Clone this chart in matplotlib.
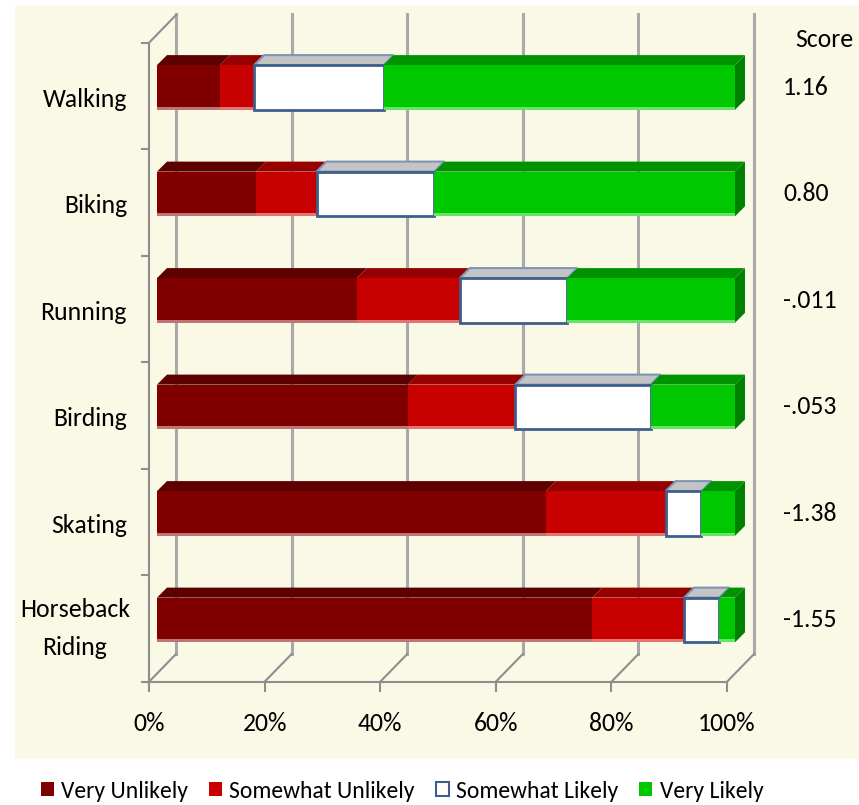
import numpy as np
import matplotlib.pyplot as plt
from matplotlib import font_manager
from matplotlib.patches import Polygon, Rectangle, Patch

# survey shares (percent of respondents) per activity
activities = ["Walking", "Biking", "Running", "Birding", "Skating", "Horseback\nRiding"]
very_unlikely = [10.9, 17.1, 34.6, 43.4, 67.3, 75.3]
somewhat_unlikely = [5.9, 10.5, 17.8, 18.6, 20.7, 15.9]
somewhat_likely = [22.4, 20.4, 18.6, 23.4, 6.2, 6.1]
very_likely = [60.8, 52.0, 29.0, 14.6, 5.8, 2.7]
scores = ["1.16", "0.80", "-.011", "-.053", "-1.38", "-1.55"]
tick_values = [0, 20, 40, 60, 80, 100]

series = [
    ("Very Unlikely", very_unlikely, "#800000", "#5C0000", "#C07474", "#800000"),
    ("Somewhat Unlikely", somewhat_unlikely, "#C80000", "#960000", "#E47474", "#C80000"),
    ("Somewhat Likely", somewhat_likely, "#FFFFFF", "#C4C4C4", "#FFFFFF", "#3D5F8C"),
    ("Very Likely", very_likely, "#00C800", "#009300", "#66E466", "#00C800"),
]

names = {f.name for f in font_manager.fontManager.ttflist}
for fam in ["Carlito", "Lato", "DejaVu Sans"]:
    if fam in names:
        plt.rcParams["font.family"] = [fam, "DejaVu Sans"]
        break
FS = 18.5

fig = plt.figure(figsize=(8.59, 8.05), dpi=100)
fig.patches.append(Rectangle((15 / 859, 47 / 805), 1 - 15 / 859, 752 / 805,
                             transform=fig.transFigure, color="#FAF9E6", zorder=0))

ax = fig.add_axes([0, 0, 1, 1])
ax.set_zorder(2)
ax.set_xlim(-149 / 5.78, (859 - 149) / 5.78)
ax.set_ylim((805 - 96) / 106.5, -96 / 106.5)
ax.axis("off")

n = len(activities)
rows = np.arange(n)
wall_dx, wall_dy = 4.67, 0.26      # floor / wall depth
bar_dx, bar_dy = 1.73, 0.094       # bar depth
shift_x, shift_y = 1.38, -0.08     # bars sit slightly behind front plane
bar_h = 0.42
grid = "#8E8E8E"

# back wall gridlines
for t in tick_values:
    ax.plot([t + wall_dx, t + wall_dx], [-0.5 - wall_dy - 0.01, n - 0.5 - wall_dy],
            color="#A9A9A9", lw=2.2, zorder=1)
    ax.plot([t, t + wall_dx], [n - 0.5, n - 0.5 - wall_dy], color=grid, lw=1.5, zorder=1)
    ax.plot([t, t], [n - 0.5, n - 0.5 + 0.085], color=grid, lw=1.5, zorder=1)
    ax.text(t, n - 0.5 + 0.39, f"{t}%", ha="center", va="center", fontsize=FS)

# left wall and floor edge
ax.plot([0, 0], [-0.5, n - 0.5 + 0.085], color=grid, lw=1.5, zorder=1)
ax.plot([0, wall_dx], [-0.5, -0.5 - wall_dy], color=grid, lw=1.5, zorder=1)
ax.plot([0, 100], [n - 0.5, n - 0.5], color=grid, lw=1.5, zorder=1)
for b in np.arange(n + 1) - 0.5:
    ax.plot([-1.2, 0], [b, b], color=grid, lw=1.5, zorder=1)

# stacked 3D bars
centers = rows + shift_y
left = np.zeros(n)
for label, vals, front, top, strip, edge in series:
    vals = np.array(vals)
    ax.barh(centers, vals, left=left + shift_x, height=bar_h, color=front,
            edgecolor=edge, linewidth=2 if front == "#FFFFFF" else 0, zorder=3)
    if front != "#FFFFFF":
        ax.barh(centers + bar_h / 2 - 0.015, vals, left=left + shift_x, height=0.03,
                color=strip, linewidth=0, zorder=3)
    for c, l, v in zip(centers, left, vals):
        y0 = c - bar_h / 2
        x0, x1 = l + shift_x, l + v + shift_x
        tedge = "#7B96B8" if front == "#FFFFFF" else top
        ax.add_patch(Polygon([(x0, y0), (x1, y0), (x1 + bar_dx, y0 - bar_dy), (x0 + bar_dx, y0 - bar_dy)],
                             closed=True, facecolor=top, edgecolor=tedge,
                             lw=1.5 if front == "#FFFFFF" else 0, zorder=2.5))
    left = left + vals

# right end faces
for c, l in zip(centers, left):
    y0, y1 = c - bar_h / 2, c + bar_h / 2
    x = l + shift_x
    ax.add_patch(Polygon([(x, y0), (x + bar_dx, y0 - bar_dy), (x + bar_dx, y1 - bar_dy), (x, y1)],
                         closed=True, facecolor="#008000", lw=0, zorder=2.6))

# category labels and scores
for r, name in zip(rows, activities):
    if "\n" in name:
        ax.text(-12.8, r, name, ha="center", va="center", fontsize=FS, linespacing=1.75)
    else:
        ax.text(-3.8, r + 0.03, name, ha="right", va="center", fontsize=FS)
for c, s in zip(centers, scores):
    ax.text(109.7, c, s, ha="left", va="center", fontsize=FS)
ax.text(111.8, -0.526, "Score", ha="left", va="center", fontsize=FS)

handles = [Patch(facecolor=s[2], edgecolor=s[5], linewidth=1.5 if s[2] == "#FFFFFF" else 0)
           for s in series]
fig.legend(handles, [s[0] for s in series], loc="center", bbox_to_anchor=(0.468, 1 - 791 / 805),
           ncol=4, frameon=False, fontsize=17, handlelength=0.55, handleheight=0.55,
           handletextpad=0.3, columnspacing=0.9)

fig.savefig("out.png", dpi=100)
